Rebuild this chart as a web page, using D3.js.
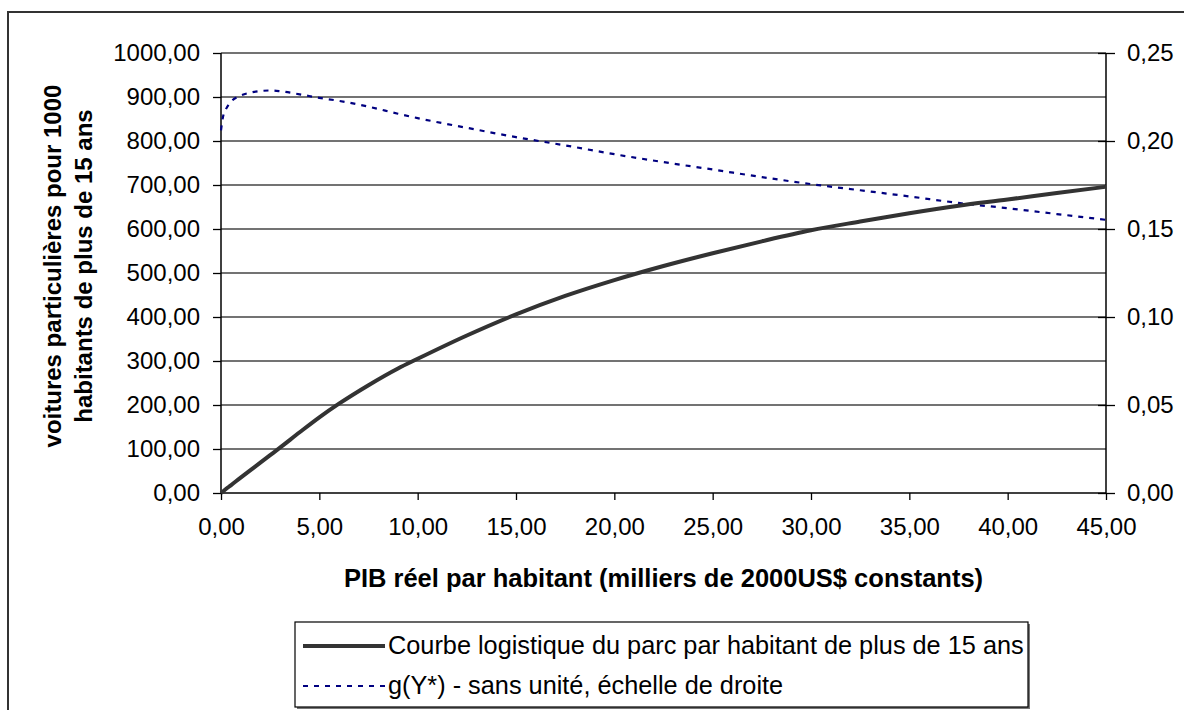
<!DOCTYPE html>
<html>
<head>
<meta charset="utf-8">
<script src="https://cdn.jsdelivr.net/npm/d3@7"></script>
<style>
  body { margin: 0; background: #fff; }
  text { font-family: "Liberation Sans", Arial, sans-serif; fill: #000; }
</style>
</head>
<body>
<script>
// PIB par habitant (milliers de 2000US$)
const gdp = [0, 0.1, 0.25, 0.5, 1, 1.5, 2, 2.5, 3, 4, 5, 6, 7.5, 9, 10, 12.5, 15, 17.5,
  20, 22.5, 25, 27.5, 30, 32.5, 35, 37.5, 40, 42.5, 45];
// courbe logistique (voitures pour 1000 habitants de plus de 15 ans)
const logistic = [0, 3.5, 9, 17.5, 35, 52, 69, 86, 103, 138, 172, 203, 245, 283, 305, 358,
  406, 448, 484, 516, 545, 572, 597, 617, 636, 653, 667, 682, 696];
// g(Y*) - échelle de droite
const gY = [0.206, 0.2136, 0.218, 0.2222, 0.2258, 0.2275, 0.2284, 0.2287, 0.2283, 0.2265,
  0.2245, 0.2228, 0.2195, 0.2155, 0.213, 0.2075, 0.2022, 0.1975, 0.1925, 0.188, 0.1838,
  0.1795, 0.1755, 0.172, 0.1685, 0.1648, 0.1618, 0.1585, 0.1552];

const xTicks = d3.range(0, 46, 5);
const yTicks = d3.range(0, 1001, 100);
const y2Ticks = [0, 0.05, 0.1, 0.15, 0.2, 0.25];

const legendLabels = [
  "Courbe logistique du parc par habitant de plus de 15 ans",
  "g(Y*) - sans unité, échelle de droite"
];

const width = 1184, height = 710;
const plot = { left: 221, right: 1106, top: 53, bottom: 493 };
const fmt = v => d3.format(".2f")(v).replace(".", ",");

const svg = d3.select("body").append("svg")
  .attr("width", width).attr("height", height);

// cadre du graphique
svg.append("rect")
  .attr("x", 8).attr("y", 12)
  .attr("width", 1300).attr("height", 800)
  .attr("fill", "none").attr("stroke", "#333").attr("stroke-width", 2);

const x = d3.scaleLinear().domain([0, 45]).range([plot.left, plot.right]);
const y = d3.scaleLinear().domain([0, 1000]).range([plot.bottom, plot.top]);
const y2 = d3.scaleLinear().domain([0, 0.25]).range([plot.bottom, plot.top]);

// quadrillage
svg.append("g")
  .selectAll("line")
  .data(yTicks.slice(1))
  .join("line")
  .attr("x1", plot.left).attr("x2", plot.right)
  .attr("y1", d => y(d)).attr("y2", d => y(d))
  .attr("stroke", "#444").attr("stroke-width", 1.3);

// axe gauche
const yAxis = svg.append("g")
  .attr("transform", `translate(${plot.left},0)`)
  .call(d3.axisLeft(y).tickValues(yTicks).tickFormat(fmt).tickSize(8).tickPadding(13));

// axe droit
const y2Axis = svg.append("g")
  .attr("transform", `translate(${plot.right},0)`)
  .call(d3.axisRight(y2).tickValues(y2Ticks).tickFormat(fmt).tickSize(9).tickPadding(12));
y2Axis.selectAll(".tick line").attr("x1", -8);

// axe horizontal
const xAxis = svg.append("g")
  .attr("transform", `translate(0,${plot.bottom})`)
  .call(d3.axisBottom(x).tickValues(xTicks).tickFormat(fmt).tickSize(7).tickPadding(18));

[yAxis, y2Axis, xAxis].forEach(g => {
  g.select(".domain").attr("stroke", "#000").attr("stroke-width", 1.5);
  g.selectAll(".tick line").attr("stroke", "#000").attr("stroke-width", 1.3);
  g.selectAll(".tick text").attr("font-size", 24).attr("font-family", "Liberation Sans, Arial, sans-serif");
});
yAxis.select(".domain").attr("d", `M0,${plot.bottom}V${plot.top}`);
y2Axis.select(".domain").attr("d", `M0,${plot.bottom}V${plot.top}`);
xAxis.select(".domain").attr("d", `M${plot.left},0H${plot.right}`);

// courbes
const rows = gdp.map((g, i) => ({ g, v: logistic[i], w: gY[i] }));

svg.append("path")
  .datum(rows)
  .attr("fill", "none")
  .attr("stroke", "#000080")
  .attr("stroke-width", 2.2)
  .attr("stroke-dasharray", "5,6")
  .attr("d", d3.line().x(d => x(d.g)).y(d => y2(d.w)).curve(d3.curveMonotoneX));

svg.append("path")
  .datum(rows)
  .attr("fill", "none")
  .attr("stroke", "#333")
  .attr("stroke-width", 4)
  .attr("d", d3.line().x(d => x(d.g)).y(d => y(d.v)).curve(d3.curveMonotoneX));

// titres des axes
svg.append("text")
  .attr("x", (plot.left + plot.right) / 2).attr("y", 587)
  .attr("text-anchor", "middle")
  .attr("font-size", 25.5).attr("font-weight", "bold")
  .text("PIB réel par habitant (milliers de 2000US$ constants)");

const yTitle = svg.append("text")
  .attr("transform", `translate(61,266) rotate(-90)`)
  .attr("text-anchor", "middle")
  .attr("font-size", 24).attr("font-weight", "bold");
yTitle.append("tspan").attr("x", 0).attr("y", 0).text("voitures particulières pour 1000");
yTitle.append("tspan").attr("x", 0).attr("y", 31).text("habitants de plus de 15 ans");

// légende
const legend = svg.append("g");
legend.append("rect")
  .attr("x", 297).attr("y", 624).attr("width", 733).attr("height", 85)
  .attr("fill", "#777");
legend.append("rect")
  .attr("x", 295).attr("y", 622).attr("width", 733).attr("height", 85)
  .attr("fill", "#fff").attr("stroke", "#000").attr("stroke-width", 1.2);

const legendStyles = [
  { stroke: "#333", width: 4, dash: null },
  { stroke: "#000080", width: 2.2, dash: "5,6" }
];
legendLabels.forEach((label, i) => {
  const cy = 646 + i * 40;
  legend.append("line")
    .attr("x1", 303).attr("x2", 385).attr("y1", cy).attr("y2", cy)
    .attr("stroke", legendStyles[i].stroke)
    .attr("stroke-width", legendStyles[i].width)
    .attr("stroke-dasharray", legendStyles[i].dash);
  legend.append("text")
    .attr("x", 388).attr("y", cy + 8)
    .attr("font-size", 25.3)
    .text(label);
});
</script>
</body>
</html>
